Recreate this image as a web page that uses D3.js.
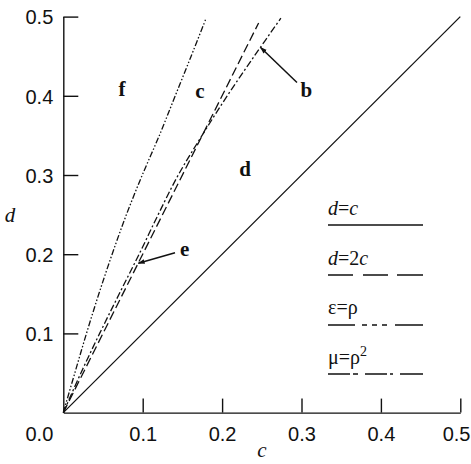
<!DOCTYPE html>
<html><head><meta charset="utf-8">
<script src="https://cdn.jsdelivr.net/npm/d3@7"></script>
<style>
html,body{margin:0;padding:0;background:#fff;}
svg{display:block;}
</style></head>
<body><svg id="chart" width="471" height="464"></svg>
<script>
// ---- data ----
const xTickValues = [0.1, 0.2, 0.3, 0.4, 0.5];
const xTickLabels = ["0.1", "0.2", "0.3", "0.4", "0.5"];
const yTickValues = [0.1, 0.2, 0.3, 0.4, 0.5];
const yTickLabels = ["0.1", "0.2", "0.3", "0.4", "0.5"];
const originLabel = "0.0";

// d = c
const lineDC_c = [0, 0.5];
const lineDC_d = [0, 0.5];
// d = 2c
const line2C_c = [0, 0.246];
const line2C_d = [0, 0.492];
// epsilon = rho
const epsRho_c = [0, 0.0145, 0.0292, 0.0448, 0.0615, 0.0795, 0.0995, 0.121, 0.141, 0.161, 0.1795];
const epsRho_d = [0, 0.05, 0.1, 0.15, 0.2, 0.25, 0.3, 0.35, 0.4, 0.45, 0.497];
// mu = rho^2
const muRho2_c = [0, 0.0222, 0.0458, 0.0705, 0.0955, 0.1195, 0.1448, 0.1748, 0.2065, 0.2405, 0.274];
const muRho2_d = [0, 0.05, 0.1, 0.15, 0.2, 0.25, 0.3, 0.35, 0.4, 0.45, 0.498];

const regionNames = ["f", "c", "b", "d", "e"];
const regionC = [0.074, 0.172, 0.306, 0.229, 0.153];
const regionD = [0.409, 0.407, 0.408, 0.308, 0.2076];

const legendNames = ["d=c", "d=2c", "ε=ρ", "μ=ρ2"];

// ---- layout ----
const W = 471, H = 464;
const svg = d3.select("#chart");
const x0 = 63.3, x1 = 460.3, y0 = 412.6, y1 = 16.6;
const x = d3.scaleLinear().domain([0, 0.5]).range([x0, x1]);
const y = d3.scaleLinear().domain([0, 0.5]).range([y0, y1]);

const tickFont = "'Liberation Sans', Arial, Helvetica, sans-serif";
const serif = "'Liberation Serif', 'Times New Roman', serif";

// axes
const xAxis = d3.axisBottom(x).tickValues(xTickValues)
  .tickFormat((d, i) => xTickLabels[i]).tickSize(-14).tickPadding(14).tickSizeOuter(0);
const gx = svg.append("g").attr("transform", `translate(0,${y0})`).call(xAxis);
const yAxis = d3.axisLeft(y).tickValues(yTickValues)
  .tickFormat((d, i) => yTickLabels[i]).tickSize(-15).tickPadding(10).tickSizeOuter(0);
const gy = svg.append("g").attr("transform", `translate(${x0},0)`).call(yAxis);
[gx, gy].forEach(g => {
  g.selectAll("path.domain").attr("stroke", "#111").attr("stroke-width", 1.4);
  g.selectAll(".tick line").attr("stroke", "#111").attr("stroke-width", 1.4);
  g.selectAll(".tick text").attr("fill", "#111").style("font-family", tickFont).style("font-size", "20px");
});
gy.selectAll(".tick text").attr("dy", "0.36em");
// keep the last x label inside the frame
gx.selectAll(".tick text").filter(d => d === 0.5)
  .attr("text-anchor", "end").attr("x", W - 1 - x(0.5));
// origin label
svg.append("text").attr("x", x0 - 10).attr("y", y0 + 28).attr("text-anchor", "end")
  .style("font-family", tickFont).style("font-size", "20px").attr("fill", "#111").text(originLabel);

// axis titles
svg.append("text").attr("x", x(0.25)).attr("y", 457).attr("text-anchor", "middle")
  .style("font-family", serif).style("font-style", "italic").style("font-size", "21px").attr("fill", "#111").text("c");
svg.append("text").attr("x", 10).attr("y", 222).attr("text-anchor", "middle")
  .style("font-family", serif).style("font-style", "italic").style("font-size", "21px").attr("fill", "#111").text("d");

// lines
const lineGen = d3.line().x(p => x(p[0])).y(p => y(p[1]));
const curveGen = d3.line().x(p => x(p[0])).y(p => y(p[1])).curve(d3.curveCatmullRom);
const zip = (a, b) => a.map((v, i) => [v, b[i]]);

const styles = {
  dc: null,
  d2c: "9,4",
  eps: "6,2,1.5,2,1.5,2",
  mu: "7,2.5,2,2.5"
};
function drawLine(data, gen, dash) {
  const p = svg.append("path").datum(data).attr("d", gen).attr("fill", "none")
    .attr("stroke", "#111").attr("stroke-width", 1.3);
  if (dash) p.attr("stroke-dasharray", dash);
}
drawLine(zip(lineDC_c, lineDC_d), lineGen, styles.dc);
drawLine(zip(line2C_c, line2C_d), lineGen, styles.d2c);
drawLine(zip(epsRho_c, epsRho_d), curveGen, styles.eps);
drawLine(zip(muRho2_c, muRho2_d), curveGen, styles.mu);

// region labels
regionNames.forEach((t, i) => {
  svg.append("text").attr("x", x(regionC[i])).attr("y", y(regionD[i])).attr("dy", "0.35em")
    .attr("text-anchor", "middle").style("font-family", serif).style("font-weight", "bold")
    .style("font-size", "21px").attr("fill", "#111").text(t);
});

// annotation arrows (data coords)
svg.append("defs").append("marker").attr("id", "ah").attr("viewBox", "0 0 10 10")
  .attr("refX", 9).attr("refY", 5).attr("markerWidth", 7).attr("markerHeight", 7)
  .attr("orient", "auto").attr("markerUnits", "userSpaceOnUse")
  .append("path").attr("d", "M0,1.5 L10,5 L0,8.5 Z").attr("fill", "#111");
const arrows = [
  [[0.2943, 0.4168], [0.2485, 0.461]],
  [[0.1407, 0.2018], [0.0945, 0.1886]]
];
arrows.forEach(a => {
  svg.append("path").datum(a).attr("d", lineGen).attr("stroke", "#111").attr("stroke-width", 1.5)
    .attr("fill", "none").attr("marker-end", "url(#ah)");
});

// legend
const legX = 328, legW = 95;
const legTextY = [215, 265, 314, 364];
const legLineY = [225, 275, 325, 374];
const legDash = [null, "25,10,25,9,26", "27,7,5,5,5,5,5,8,28", "22,3,5,7,22,3,3,7,23"];
const leg = svg.append("g");
legendNames.forEach((n, i) => {
  const t = leg.append("text").attr("x", legX).attr("y", legTextY[i])
    .style("font-family", serif).style("font-size", "20px").attr("fill", "#111");
  if (i === 0) {
    t.append("tspan").style("font-style", "italic").text("d");
    t.append("tspan").text("=");
    t.append("tspan").style("font-style", "italic").text("c");
  } else if (i === 1) {
    t.append("tspan").style("font-style", "italic").text("d");
    t.append("tspan").text("=2");
    t.append("tspan").style("font-style", "italic").text("c");
  } else if (i === 2) {
    t.text(n);
  } else {
    t.append("tspan").text("μ=ρ");
    t.append("tspan").attr("dy", -8).style("font-size", "14px").text("2");
  }
  const l = leg.append("line").attr("x1", legX).attr("x2", legX + legW)
    .attr("y1", legLineY[i]).attr("y2", legLineY[i]).attr("stroke", "#111").attr("stroke-width", 1.6);
  if (legDash[i]) l.attr("stroke-dasharray", legDash[i]);
});
</script>
</body></html>
